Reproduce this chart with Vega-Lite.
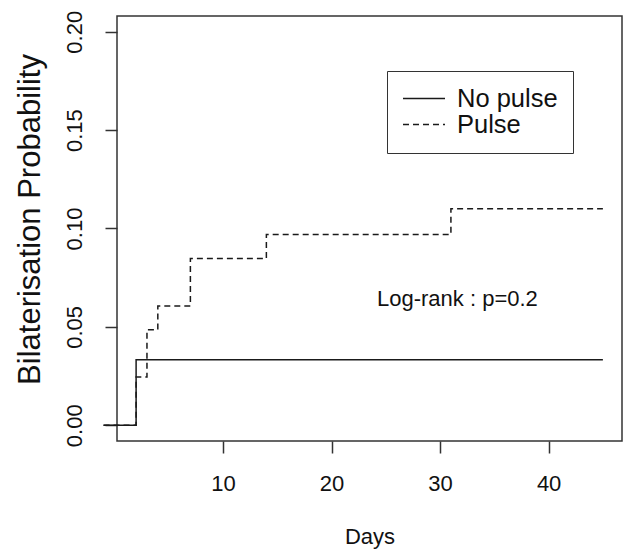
{
  "$schema": "https://vega.github.io/schema/vega-lite/v6.json",
  "width": 505,
  "height": 425,
  "autosize": {"type": "none"},
  "padding": {"left": 117, "top": 16, "right": 5, "bottom": 108},
  "background": "white",
  "config": {
    "view": {"stroke": "#333", "strokeWidth": 1.5},
    "font": "Liberation Sans"
  },
  "datasets": {
    "curves": [
      {"group": "No pulse", "day": -1, "prob": 0},
      {"group": "No pulse", "day": 2, "prob": 0.0333},
      {"group": "No pulse", "day": 45, "prob": 0.0333},
      {"group": "Pulse", "day": -1, "prob": 0},
      {"group": "Pulse", "day": 2, "prob": 0.0245},
      {"group": "Pulse", "day": 3, "prob": 0.0486},
      {"group": "Pulse", "day": 4, "prob": 0.0606},
      {"group": "Pulse", "day": 7, "prob": 0.0847},
      {"group": "Pulse", "day": 14, "prob": 0.097},
      {"group": "Pulse", "day": 31, "prob": 0.110},
      {"group": "Pulse", "day": 45, "prob": 0.110}
    ],
    "note": [
      {"day": 31.6, "prob": 0.064, "label": "Log-rank : p=0.2"}
    ]
  },
  "layer": [
    {
      "data": {"name": "curves"},
      "mark": {"type": "line", "interpolate": "step-after", "strokeWidth": 1.5, "color": "#1a1a1a"},
      "encoding": {
        "x": {
          "field": "day", "type": "quantitative",
          "scale": {"domain": [0.24, 46.76], "nice": false, "zero": false},
          "axis": {
            "values": [10, 20, 30, 40], "domain": false, "grid": false,
            "tickSize": 12, "tickWidth": 1.5, "tickColor": "#333",
            "labelFontSize": 22, "labelColor": "#111", "labelPadding": 20,
            "title": "Days", "titleFontSize": 22, "titleFontWeight": "normal", "titleColor": "#111", "titlePadding": 32
          }
        },
        "y": {
          "field": "prob", "type": "quantitative",
          "scale": {"domain": [-0.008, 0.208], "nice": false, "zero": false},
          "axis": {
            "values": [0, 0.05, 0.1, 0.15, 0.2], "format": ".2f", "domain": false, "grid": false,
            "tickSize": 12, "tickWidth": 1.5, "tickColor": "#333",
            "labelAngle": -90, "labelAlign": "center", "labelBaseline": "bottom",
            "labelFontSize": 22, "labelColor": "#111", "labelPadding": 19,
            "title": "Bilaterisation Probability", "titleFontSize": 31, "titleFontWeight": "normal", "titleColor": "#111", "titlePadding": 17, "titleY": 203
          }
        },
        "strokeDash": {
          "field": "group", "type": "nominal",
          "scale": {"domain": ["No pulse", "Pulse"], "range": [[1, 0], [6, 4]]},
          "legend": {
            "title": null, "orient": "none", "legendX": 270, "legendY": 55,
            "symbolType": "stroke", "symbolSize": 1764, "symbolStrokeWidth": 1.5, "symbolStrokeColor": "#1a1a1a",
            "labelFontSize": 25.5, "labelColor": "#111", "labelOffset": 11,
            "padding": 15, "strokeColor": "#333", "fillColor": "white", "rowPadding": 0, "clipHeight": 25
          }
        }
      }
    },
    {
      "data": {"name": "note"},
      "mark": {"type": "text", "fontSize": 22, "color": "#111", "align": "center", "baseline": "middle"},
      "encoding": {
        "x": {"field": "day", "type": "quantitative"},
        "y": {"field": "prob", "type": "quantitative"},
        "text": {"field": "label"}
      }
    }
  ]
}
